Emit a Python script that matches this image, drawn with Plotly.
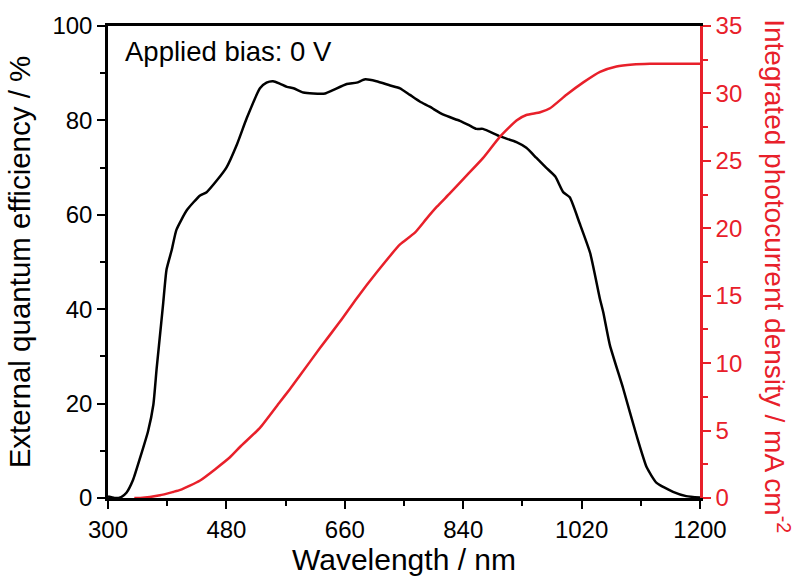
import plotly.graph_objects as go

# External quantum efficiency (%) vs wavelength (nm)
wl_eqe = [300, 310, 320, 328, 338, 349, 361, 369, 374, 381, 384, 389, 397, 404, 420,
          440, 450, 465, 480, 496, 511, 531, 541, 551, 561, 572, 582, 597, 612, 630,
          642, 663, 678, 691, 708, 729, 744, 759, 774, 789, 810, 835, 850, 860, 870,
          896, 921, 936, 951, 966, 980, 992, 1002, 1017, 1033, 1048, 1053, 1063, 1083,
          1103, 1119, 1134, 1159, 1179, 1200]
eqe = [0.3, 0.0, 0.2, 1.1, 3.8, 8.6, 14.2, 19.8, 27.5, 37.2, 41.4, 48.4, 52.6, 56.8, 61.0,
       64.1, 64.8, 67.2, 70.0, 74.9, 80.5, 86.8, 88.0, 88.3, 87.8, 87.1, 86.8, 85.9, 85.7, 85.7,
       86.4, 87.7, 88.0, 88.7, 88.3, 87.4, 86.8, 85.4, 84.0, 82.9, 81.2, 79.9, 78.9, 78.2, 78.2,
       76.6, 75.4, 74.2, 72.1, 70.0, 68.1, 64.8, 63.7, 58.2, 51.9, 42.1, 39.3, 32.4, 23.3,
       13.5, 6.5, 3.2, 1.3, 0.4, 0.1]

# Integrated photocurrent density (mA cm^-2) vs wavelength (nm)
wl_j = [340, 349, 379, 399, 410, 440, 485, 501, 531, 561, 577, 592, 622, 653, 678, 708,
        744, 749, 767, 784, 800, 820, 845, 870, 896, 921, 936, 957, 972, 997, 1022,
        1048, 1073, 1098, 1124, 1200]
jsc = [0.0, 0.0, 0.2, 0.45, 0.6, 1.3, 3.0, 3.8, 5.2, 7.1, 8.1, 9.1, 11.1, 13.1, 14.8, 16.7,
       18.8, 19.0, 19.7, 20.7, 21.6, 22.6, 23.9, 25.2, 26.8, 28.0, 28.4, 28.6, 28.9, 29.9, 30.8,
       31.6, 32.0, 32.15, 32.2, 32.2]

x_ticks = [300, 480, 660, 840, 1020, 1200]
y1_ticks = [0, 20, 40, 60, 80, 100]
y2_ticks = [0, 5, 10, 15, 20, 25, 30, 35]

RED = "#E8202A"
FONT = "Arial, Liberation Sans, sans-serif"

fig = go.Figure()
fig.add_trace(go.Scatter(x=wl_eqe, y=eqe, mode="lines",
                         line=dict(color="black", width=2.5, shape="spline", smoothing=0.5),
                         yaxis="y"))
fig.add_trace(go.Scatter(x=wl_j, y=jsc, mode="lines",
                         line=dict(color=RED, width=2.5, shape="spline", smoothing=0.5),
                         yaxis="y2"))

fig.update_layout(
    width=795, height=585,
    margin=dict(l=108, r=95, t=20, b=87),
    paper_bgcolor="white", plot_bgcolor="white",
    showlegend=False,
    font=dict(family=FONT, size=24, color="black"),
    xaxis=dict(
        range=[300, 1200], tickvals=x_ticks, ticktext=[str(v) for v in x_ticks],
        ticks="outside", ticklen=8, tickwidth=2, tickcolor="black",
        showline=True, linecolor="black", linewidth=2.5, mirror=True,
        showgrid=False, zeroline=False,
        minor=dict(dtick=90, tick0=300, ticks="outside", ticklen=5, tickwidth=2, tickcolor="black"),
        title=dict(text="Wavelength / nm", font=dict(size=30), standoff=6),
        tickfont=dict(size=24),
    ),
    yaxis=dict(
        range=[0, 100], tickvals=y1_ticks, ticktext=[str(v) for v in y1_ticks],
        ticks="outside", ticklen=8, tickwidth=2, tickcolor="black",
        showline=True, linecolor="black", linewidth=2.5,
        showgrid=False, zeroline=False,
        minor=dict(dtick=10, tick0=0, ticks="outside", ticklen=5, tickwidth=2, tickcolor="black"),
        title=dict(text="External quantum efficiency / %", font=dict(size=29.5), standoff=14),
        tickfont=dict(size=24),
    ),
    yaxis2=dict(
        range=[0, 35], tickvals=y2_ticks, ticktext=[str(v) for v in y2_ticks],
        overlaying="y", side="right",
        ticks="outside", ticklen=8, tickwidth=2, tickcolor=RED,
        showline=True, linecolor=RED, linewidth=2.5,
        showgrid=False, zeroline=False,
        minor=dict(dtick=2.5, tick0=0, ticks="outside", ticklen=5, tickwidth=2, tickcolor=RED),
        tickfont=dict(size=24, color=RED),
    ),
    annotations=[
        dict(text="Applied bias: 0 V", xref="paper", yref="paper",
             x=0.025, y=0.945, xanchor="left", yanchor="middle",
             showarrow=False, font=dict(size=27.5, color="black")),
        dict(text="Integrated photocurrent density / mA cm<sup>-2</sup>",
             xref="paper", yref="paper", x=1.13, y=0.47,
             xanchor="center", yanchor="middle", textangle=90,
             showarrow=False, font=dict(size=28, color=RED)),
    ],
)

fig.write_html("out.html")
